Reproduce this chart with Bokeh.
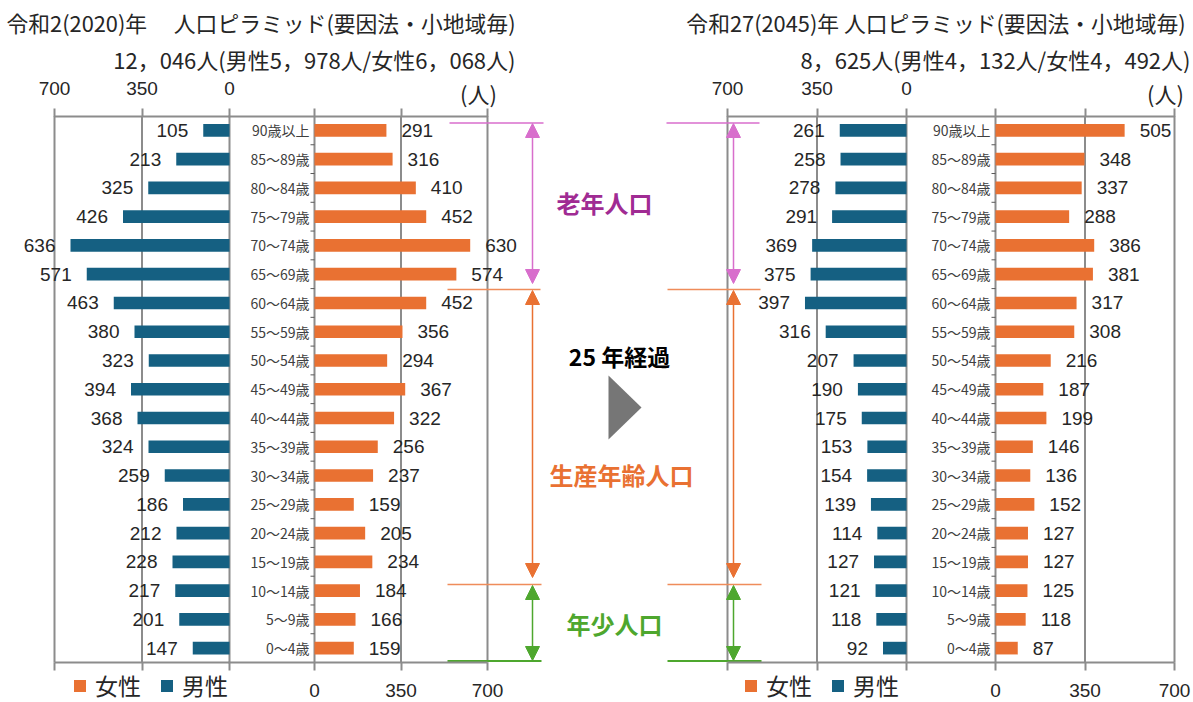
from bokeh.plotting import figure
from bokeh.models import (Range1d, LinearAxis, FixedTicker, Arrow, NormalHead,
                          Legend, LegendItem)
from bokeh.core.properties import value
from bokeh.embed import file_html
from bokeh.resources import INLINE

# ---------------- data (youngest -> oldest) ----------------
age_groups = ["0～4歳", "5～9歳", "10～14歳", "15～19歳", "20～24歳", "25～29歳",
              "30～34歳", "35～39歳", "40～44歳", "45～49歳", "50～54歳", "55～59歳",
              "60～64歳", "65～69歳", "70～74歳", "75～79歳", "80～84歳", "85～89歳",
              "90歳以上"]
male_2020 = [147, 201, 217, 228, 212, 186, 259, 324, 368, 394, 323, 380, 463, 571,
             636, 426, 325, 213, 105]
female_2020 = [159, 166, 184, 234, 205, 159, 237, 256, 322, 367, 294, 356, 452, 574,
               630, 452, 410, 316, 291]
male_2045 = [92, 118, 121, 127, 114, 139, 154, 153, 175, 190, 207, 316, 397, 375,
             369, 291, 278, 258, 261]
female_2045 = [87, 118, 125, 127, 127, 152, 136, 146, 199, 187, 216, 308, 317, 381,
               386, 288, 337, 348, 505]
axis_ticks = [0, 350, 700]

title_2020 = "令和2(2020)年　 人口ピラミッド(要因法・小地域毎)"
sub_2020 = "12，046人(男性5，978人/女性6，068人)"
title_2045 = "令和27(2045)年  人口ピラミッド(要因法・小地域毎)"
sub_2045 = "8，625人(男性4，132人/女性4，492人)"
unit_label = "(人)"
legend_labels = ["女性", "男性"]

# ---------------- styling ----------------
MALE = "#156082"
FEMALE = "#E97132"
GRID = "#8c8c8c"
TXT = "#262626"
NUM_FONT = "Liberation Sans"
JP_FONT = "Noto Sans CJK JP"
PINK = "#d86ecc"
PURPLE = "#A02B93"
ORANGE = "#E97132"
ORANGE_L = "#ef8c5a"
GREEN = "#4EA72E"

W, H = 1193, 702                  # canvas size == design coordinate space

p = figure(width=W, height=H, x_range=Range1d(0, W), y_range=Range1d(H, 0),
           x_axis_type=None, y_axis_type=None, toolbar_location=None,
           output_backend="svg", min_border=0, outline_line_color=None)
p.background_fill_color = "white"
p.border_fill_color = "white"


def side_range(px0, px700):
    k = (px700 - px0) / 700.0
    return Range1d(start=(0 - px0) / k, end=(W - px0) / k)


n = len(age_groups)
ROW_TOP, ROW_BOT = 115.5, 662.0
kr = (ROW_TOP - ROW_BOT) / n


def row_at(y):
    return -0.5 + (y - ROW_BOT) / kr


p.extra_x_ranges = {
    "Lm": side_range(229, 54), "Lf": side_range(314, 487),
    "Rm": side_range(906, 727), "Rf": side_range(995, 1174),
}
p.extra_y_ranges = {"rows": Range1d(start=row_at(H), end=row_at(0))}
rows = list(range(n))


def style_axis(ax, show_labels, standoff):
    ax.ticker = FixedTicker(ticks=axis_ticks)
    ax.axis_line_color = GRID
    ax.axis_line_width = 2
    ax.major_tick_line_color = GRID
    ax.major_tick_line_width = 2
    ax.major_tick_in = 0
    ax.major_tick_out = 8
    ax.minor_tick_line_color = None
    ax.major_label_text_font = NUM_FONT
    ax.major_label_text_font_size = "19px"
    ax.major_label_text_color = TXT if show_labels else None
    ax.major_label_standoff = standoff


def pyramid(mr, fr, male, female):
    kw_m = dict(x_range_name=mr, y_range_name="rows")
    kw_f = dict(x_range_name=fr, y_range_name="rows")
    # vertical grid / frame lines
    for kw in (kw_m, kw_f):
        p.segment(x0=axis_ticks, x1=axis_ticks, y0=[-0.5] * len(axis_ticks),
                  y1=[n - 0.5] * len(axis_ticks), line_color=GRID, line_width=2, **kw)
    # category ticks on female zero line
    p.ray(x=[0] * (n - 1), y=[r + 0.5 for r in rows[:-1]], length=4,
          length_units="screen", angle=3.14159265, line_color="#595959",
          line_width=1, **kw_f)
    mbar = p.hbar(y=rows, left=0, right=male, height=0.44, fill_color=MALE,
                  line_color=None, **kw_m)
    fbar = p.hbar(y=rows, left=0, right=female, height=0.44, fill_color=FEMALE,
                  line_color=None, **kw_f)
    p.text(x=male, y=rows, text=[str(v) for v in male], text_align="right",
           text_baseline="middle", x_offset=-15, text_font=value(NUM_FONT),
           text_font_size="19px", text_color=TXT, **kw_m)
    p.text(x=female, y=rows, text=[str(v) for v in female], text_align="left",
           text_baseline="middle", x_offset=15, text_font=value(NUM_FONT),
           text_font_size="19px", text_color=TXT, **kw_f)
    p.text(x=[0] * n, y=rows, text=age_groups, text_align="right",
           text_baseline="middle", x_offset=-5, text_font=value(JP_FONT),
           text_font_size="14px", text_color="#404040", **kw_f)
    # axes (drawn at the frame edges of the pyramid)
    for rng, side, loc, show, bounds, so in [
        (mr, "above", n - 0.5, True, (0, 700), 13),
        (fr, "above", n - 0.5, False, (-350, 700), 13),
        (mr, "below", -0.5, False, (0, 700), 13),
        (fr, "below", -0.5, True, (-350, 700), 13),
    ]:
        ax = LinearAxis(x_range_name=rng, y_range_name="rows", fixed_location=loc,
                        bounds=bounds)
        style_axis(ax, show, so)
        p.add_layout(ax, side)
    return mbar, fbar


mL, fL = pyramid("Lm", "Lf", male_2020, female_2020)
mR, fR = pyramid("Rm", "Rf", male_2045, female_2045)

# legends
for (mb, fb, x0) in [(mL, fL, 72), (mR, fR, 743)]:
    leg = Legend(items=[LegendItem(label=legend_labels[0], renderers=[fb]),
                        LegendItem(label=legend_labels[1], renderers=[mb])],
                 location=(x0, 0), orientation="horizontal",
                 glyph_width=15, glyph_height=15, label_standoff=8, spacing=18,
                 padding=0, margin=0, border_line_color=None,
                 background_fill_alpha=0, label_text_font=JP_FONT,
                 label_text_font_size="23px", label_text_color=TXT)
    p.add_layout(leg)

# titles
p.text(x=[515, 1190], y=[22, 22], text=[title_2020, title_2045], text_align="right",
       text_baseline="middle", text_font=value(JP_FONT), text_font_size="21.8px",
       text_color=TXT)
p.text(x=[515, 1190], y=[58, 58], text=[sub_2020, sub_2045], text_align="right",
       text_baseline="middle", text_font=value(JP_FONT), text_font_size="22px",
       text_color=TXT)
p.text(x=[478, 1165], y=[92, 92], text=[unit_label, unit_label], text_align="center",
       text_baseline="middle", text_font=value(JP_FONT), text_font_size="22px",
       text_color=TXT)

# bracket lines
p.segment(x0=[449, 666], x1=[543, 759], y0=[122.5, 122.5], y1=[122.5, 122.5],
          line_color=PINK, line_width=1.5)
p.segment(x0=[447, 667, 447, 667], x1=[540, 760, 541, 761],
          y0=[289, 289, 584, 584], y1=[289, 289, 584, 584],
          line_color=ORANGE_L, line_width=1.5)
p.segment(x0=[447, 667], x1=[541, 761], y0=[660.5, 660.5], y1=[660.5, 660.5],
          line_color=GREEN, line_width=2)

for ax_x in (532, 733):
    for (c, y0, y1) in [(PINK, 123, 283), (ORANGE, 290, 577), (GREEN, 585, 660)]:
        p.add_layout(Arrow(start=NormalHead(size=14, fill_color=c, line_color=c),
                           end=NormalHead(size=14, fill_color=c, line_color=c),
                           x_start=ax_x, y_start=y0, x_end=ax_x, y_end=y1,
                           line_color=c, line_width=1.5))

# middle texts
p.text(x=[604], y=[202], text=["老年人口"], text_align="center", text_baseline="middle",
       text_font=value(JP_FONT), text_font_size="24px", text_color=PURPLE,
       text_font_style="bold")
p.text(x=[621], y=[474], text=["生産年齢人口"], text_align="center",
       text_baseline="middle", text_font=value(JP_FONT), text_font_size="24px",
       text_color=ORANGE, text_font_style="bold")
p.text(x=[614], y=[623], text=["年少人口"], text_align="center", text_baseline="middle",
       text_font=value(JP_FONT), text_font_size="24px", text_color=GREEN,
       text_font_style="bold")
p.text(x=[619], y=[355], text=["25 年経過"], text_align="center",
       text_baseline="middle", text_font=value(JP_FONT), text_font_size="23px",
       text_color="#000000", text_font_style="bold")
p.patch(x=[608, 608, 641], y=[375, 439, 407], fill_color="#767676", line_color=None)

open("out.html", "w").write(file_html(p, INLINE))
